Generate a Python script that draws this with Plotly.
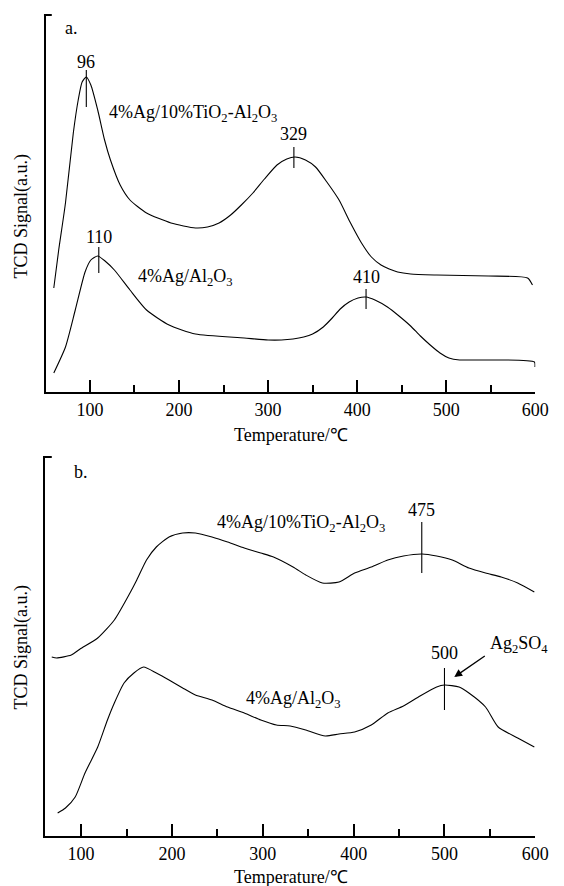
import plotly.graph_objects as go

# ---------------- data (panel a) ----------------
a_tio2_T = [59.5, 65.0, 72.6, 81.4, 86.9, 91.3, 96, 101.1, 108.8, 116.5, 123.1, 134.0, 145.0,
            163.6, 191, 218.5, 232, 245, 258, 270, 283, 296, 310, 321, 330.3, 342, 353.3, 366,
            379.7, 392, 404.9, 416, 426.8, 436, 445.4, 460, 489.3, 547.4, 591.3, 596.8]
a_tio2_v = [105, 143, 190, 260, 293, 311, 316, 308, 283, 253, 233, 208, 193,
            180, 170, 165, 166, 170, 178, 188, 200, 214, 228, 234, 236, 233, 226, 211,
            193, 171, 150, 136, 128, 124, 121, 119, 118, 117, 115, 108]

a_al_T = [59.5, 72.6, 83.6, 94.6, 101.1, 108.8, 117, 127.5, 145, 163.6, 188.9, 218.5, 273.3,
          300, 315, 328, 340, 350, 362, 372, 381, 391, 401, 410, 420, 434, 447, 460, 471,
          482, 493, 503, 515, 525.5, 599, 599.6]
a_al_v = [20, 46, 83, 121, 133, 137, 132, 123, 103, 83, 68, 59, 55,
          53, 53, 54, 56, 59, 66, 75, 84, 91, 95, 96, 93, 86, 77, 67, 57,
          48, 40, 35, 33, 33, 31, 26]

a_peaks = [96, 329, 110, 410]
a_peak_lo = [286, 225, 120, 84]
a_peak_hi = [323, 246, 146, 104]
a_peak_lab_v = [331, 259, 156, 116]

# ---------------- data (panel b) ----------------
b_tio2_T = [67.7, 73.1, 89.2, 98.9, 118.3, 136.6, 153.8, 161.3, 172, 182.8, 196.8, 211.8, 225.8,
            244.1, 261.3, 279.6, 297.8, 311.8, 333.3, 347.3, 365.6, 383.9, 401.1, 419.4, 437.6,
            454.8, 475.3, 491.4, 508.6, 526.9, 545.2, 562.4, 580.6, 598.9]
b_tio2_v = [179, 178, 181, 187, 198, 216, 243, 256, 276, 289, 299, 303, 303,
            299, 294, 288, 283, 279, 269, 261, 253, 254, 263, 269, 276,
            280, 282, 280, 276, 268, 263, 259, 253, 244]

b_al_T = [74.2, 82.8, 93.5, 104.3, 118.3, 129, 136.6, 147.3, 158.1, 168.8, 182.8, 196.8, 211.8,
          225.8, 244.1, 261.3, 279.6, 297.8, 315, 330.1, 347.3, 368.8, 383.9, 401.1, 419.4,
          437.6, 454.8, 473.1, 491.4, 500, 516.1, 526.9, 545.2, 559.1, 580.6, 598.9]
b_al_v = [23, 28, 39, 63, 89, 116, 133, 153, 163, 169, 163, 156, 148,
          141, 136, 129, 123, 116, 111, 110, 106, 100, 102, 104, 111,
          123, 130, 140, 149, 151, 149, 143, 129, 109, 98, 89]

b_peaks = [475, 500]
b_peak_lo = [263, 126]
b_peak_hi = [314, 168]
b_peak_lab_v = [326, 183]

tick_vals = [100, 200, 300, 400, 500, 600]
tick_text = ["100", "200", "300", "400", "500", "600"]

FONT = "Liberation Serif"
W, H = 564, 886

fig = go.Figure()
line = dict(color="black", width=1.1)
sline = dict(color="black", width=1.1, shape="spline", smoothing=0.6)

fig.add_trace(go.Scatter(x=a_tio2_T, y=a_tio2_v, mode="lines", line=sline, xaxis="x", yaxis="y"))
fig.add_trace(go.Scatter(x=a_al_T, y=a_al_v, mode="lines", line=sline, xaxis="x", yaxis="y"))
fig.add_trace(go.Scatter(x=b_tio2_T, y=b_tio2_v, mode="lines", line=sline, xaxis="x2", yaxis="y2"))
fig.add_trace(go.Scatter(x=b_al_T, y=b_al_v, mode="lines", line=sline, xaxis="x2", yaxis="y2"))

# peak marker lines
for p, lo, hi in zip(a_peaks, a_peak_lo, a_peak_hi):
    fig.add_trace(go.Scatter(x=[p, p], y=[lo, hi], mode="lines", line=line, xaxis="x", yaxis="y"))
for p, lo, hi in zip(b_peaks, b_peak_lo, b_peak_hi):
    fig.add_trace(go.Scatter(x=[p, p], y=[lo, hi], mode="lines", line=line, xaxis="x2", yaxis="y2"))

tf = dict(family=FONT, size=18, color="black")
xcommon = dict(showline=True, linewidth=2, linecolor="black", mirror=False, showgrid=False,
               zeroline=False, ticks="inside", ticklen=12, tickwidth=2, tickcolor="black",
               tickvals=tick_vals, ticktext=tick_text, tickfont=tf,
               minor=dict(ticks="inside", ticklen=7, tickwidth=2, tickcolor="black",
                          tickvals=[150, 250, 350, 450, 550]))
ycommon = dict(showline=True, linewidth=2, linecolor="black", showgrid=False, zeroline=False,
               showticklabels=False, ticks="")

fig.update_layout(
    width=W, height=H, margin=dict(l=0, r=0, t=0, b=0),
    paper_bgcolor="white", plot_bgcolor="white", showlegend=False,
    font=tf,
    xaxis=dict(domain=[47 / W, 548 / W], range=[50.66, 600.05], anchor="y", **xcommon),
    yaxis=dict(domain=[1 - 392 / H, 1 - 15 / H], range=[1, 378], anchor="x", **ycommon),
    xaxis2=dict(domain=[46 / W, 548 / W], range=[60.2, 600.05], anchor="y2", **xcommon),
    yaxis2=dict(domain=[1 - 836 / H, 1 - 457 / H], range=[0, 379], anchor="x2", **ycommon),
)

ann = []
def pa(x, y, text, xanchor="center", **kw):
    ann.append(dict(x=x / W, y=1 - y / H, xref="paper", yref="paper", text=text, showarrow=False,
                    xanchor=xanchor, yanchor="middle", font=tf, **kw))

pa(73, 28, "a.")
pa(83, 472, "b.")
pa(110, 114, "4%Ag/10%TiO<sub>2</sub>-Al<sub>2</sub>O<sub>3</sub>", xanchor="left")
pa(139, 277, "4%Ag/Al<sub>2</sub>O<sub>3</sub>", xanchor="left")
pa(220, 523, "4%Ag/10%TiO<sub>2</sub>-Al<sub>2</sub>O<sub>3</sub>", xanchor="left")
pa(250, 699, "4%Ag/Al<sub>2</sub>O<sub>3</sub>", xanchor="left")
pa(500, 644, "Ag<sub>2</sub>SO<sub>4</sub>", xanchor="left")
pa(298, 435, "Temperature/℃")
pa(298, 877, "Temperature/℃")
pa(22, 216, "TCD Signal(a.u.)", textangle=-90)
pa(22, 647, "TCD Signal(a.u.)", textangle=-90)

for p, v in zip(a_peaks, a_peak_lab_v):
    ann.append(dict(x=p, y=v, xref="x", yref="y", text=str(p), showarrow=False,
                    xanchor="center", yanchor="middle", font=tf))
for p, v in zip(b_peaks, b_peak_lab_v):
    ann.append(dict(x=p, y=v, xref="x2", yref="y2", text=str(p), showarrow=False,
                    xanchor="center", yanchor="middle", font=tf))

# arrow to Ag2SO4 shoulder
ann.append(dict(x=510.8, y=159, xref="x2", yref="y2", text="", showarrow=True,
                ax=32, ay=-22, arrowhead=2, arrowsize=1.2, arrowwidth=1.3, arrowcolor="black"))

fig.update_layout(annotations=ann)

# small top caps on y axes
fig.add_shape(type="line", xref="paper", yref="paper", x0=45 / W, x1=53 / W,
              y0=1 - 15 / H, y1=1 - 15 / H, line=dict(color="black", width=2))
fig.add_shape(type="line", xref="paper", yref="paper", x0=44 / W, x1=53 / W,
              y0=1 - 457 / H, y1=1 - 457 / H, line=dict(color="black", width=2))

fig.write_html("out.html")
